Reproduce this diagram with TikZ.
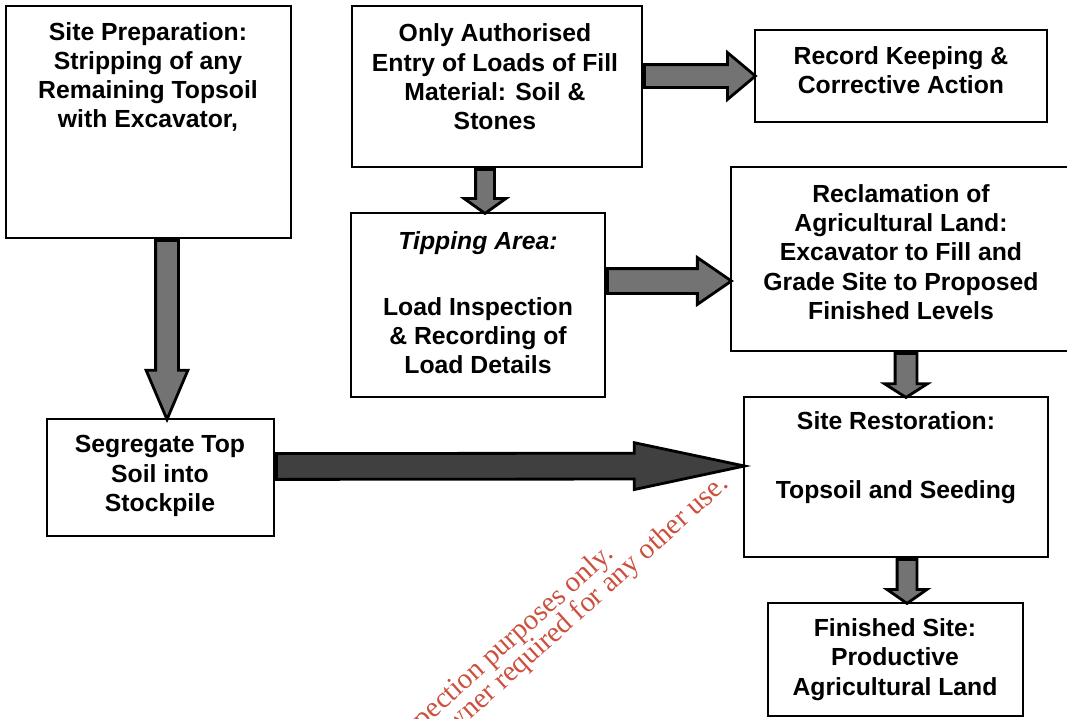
\documentclass[tikz,border=0pt]{standalone}
\usepackage{fontspec}
\setmainfont{Liberation Sans}
\newfontfamily\wmfont{Liberation Serif}
\usetikzlibrary{shapes.arrows,fit,calc}
\definecolor{wmred}{RGB}{205,80,62}
\tikzset{
  box/.style={draw, line width=1.4pt, inner sep=0pt},
  boxtext/.style={align=center, font=\bfseries\fontsize{17.6}{20.8}\selectfont},
  blockarrow/.style={single arrow, draw=black, line width=2pt, fill=black!55,
    inner xsep=0pt, single arrow head indent=0pt},
  watermark/.style={text=wmred, rotate=42, anchor=base east, inner sep=0pt,
    font=\wmfont\fontsize{20.5}{20.5}\selectfont}
}
% [fill], from, to, shaft, head, tip angle (sizes in px)
\newcommand\fatarrow[6][]{%
  \path let \p1=(#2), \p2=(#3), \n1={veclen(\x2-\x1,\y2-\y1)},
    \n2={atan2(\y2-\y1,\x2-\x1)} in
    node[blockarrow, #1, anchor=tail, rotate=\n2, minimum height=\n1,
      inner ysep={(#4-3)*0.0125cm}, single arrow head extend={(#5-#4)*0.0125cm},
      single arrow tip angle=#6] at (#2) {};}

\begin{document}
\begin{tikzpicture}[x=0.025cm, y=-0.025cm]
  \useasboundingbox (0,0) rectangle (1067,718);
  \clip (0,0) rectangle (1067,718);
  % boxes
  \node[box, fit={(6,6)(291,238)}] (prep) {};
  \node[box, fit={(352,6)(642,167)}] (auth) {};
  \node[box, fit={(755,30)(1047,122)}] (rec) {};
  \node[box, fit={(351,213)(605,397)}] (tipb) {};
  \node[box, fit={(731,167)(1075,351)}] (recl) {};
  \node[box, fit={(47,419)(274,536)}] (seg) {};
  \node[box, fit={(744,397)(1048,557)}] (rest) {};
  \node[box, fit={(768,603)(1023,716)}] (fin) {};
  % texts
  \node[boxtext] (prepT) at (148,77) {Site Preparation:\\Stripping of any\\Remaining Topsoil\\with Excavator,};
  \node[boxtext] (authT) at (495,77) {Only Authorised\\Entry of Loads of Fill\\Material: Soil \&\\Stones};
  \node[boxtext] (recT) at (901,70.5) {Record Keeping \&\\Corrective Action};
  \node[boxtext] (tipT) at (478,302.5) {\textit{Tipping Area:}\\[26pt]Load Inspection\\\& Recording of\\Load Details};
  \node[boxtext] (reclT) at (901,252) {Reclamation of\\Agricultural Land:\\Excavator to Fill and\\Grade Site to Proposed\\Finished Levels};
  \node[boxtext] (segT) at (160,476) {Segregate Top\\Soil into\\Stockpile};
  \node[boxtext] (restT) at (896,457.5) {Site Restoration:\\[28pt]Topsoil and Seeding};
  \node[boxtext] (finT) at (895,659.5) {Finished Site:\\Productive\\Agricultural Land};
  % arrows
  \fatarrow{auth.east |- rec.west}{rec.west}{23}{47}{80}
  \fatarrow{$(auth.south)+(-12,0)$}{$(tipb.north)+(7,0)$}{19}{42}{109}
  \fatarrow{$(tipb.east)+(0,-24)$}{$(recl.west)+(0,22)$}{25}{47}{69}
  \fatarrow{$(prep.south)+(18.5,0)$}{$(seg.north)+(6.5,0)$}{23}{42}{46}
  \fatarrow[fill=black!75]{$(seg.east)+(0,-11)$}{$(rest.west)+(0,-11)$}{26}{47}{24}
  \fatarrow{$(recl.south)+(3,0)$}{$(rest.north)+(10,0)$}{22}{43}{115}
  \fatarrow{$(rest.south)+(11,0)$}{$(fin.north)+(11.5,0)$}{20}{40}{110}
  % watermark
  \node[watermark] (wmA) at (615,556) {For inspection purposes only.};
  \node[watermark] (wmB) at (730,486) {Consent of copyright owner required for any other use.};
\end{tikzpicture}
\end{document}
